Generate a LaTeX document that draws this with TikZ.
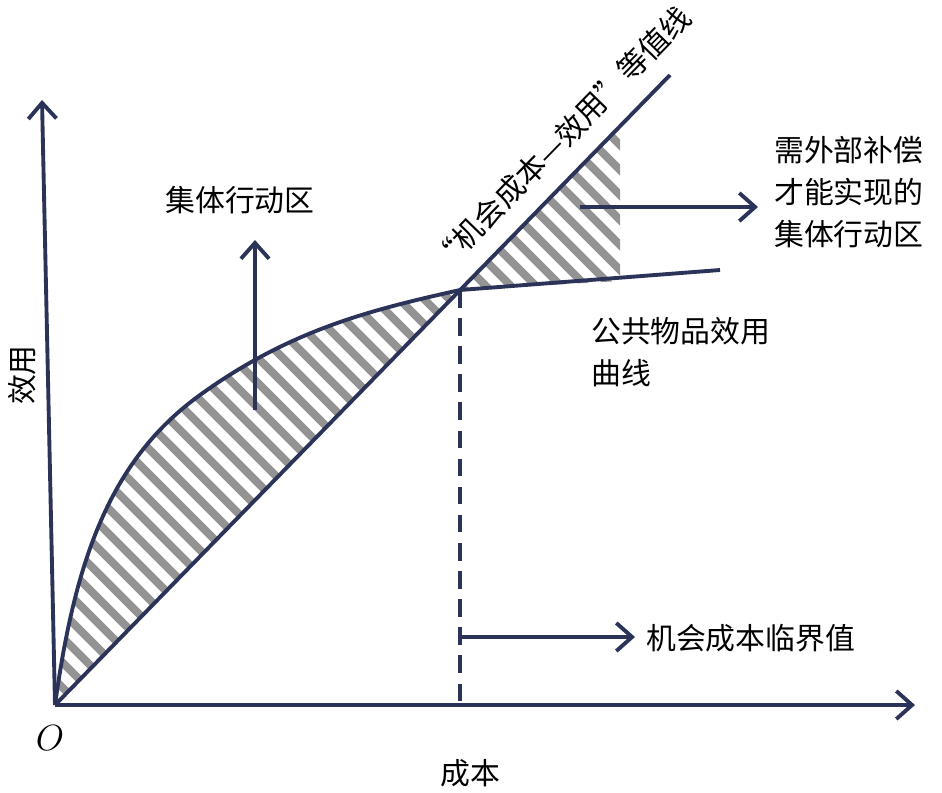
\documentclass[tikz,border=0pt]{standalone}
\usepackage{fontspec}
\setmainfont{Noto Sans CJK SC}
\usetikzlibrary{arrows.meta}
\definecolor{navy}{HTML}{2B3358}
\tikzset{
    axis/.style={navy,line width=2.2pt,-{Straight Barb[length=9pt,width=16pt,line width=2.2pt]}},
    lineN/.style={navy,line width=2.2pt},
    hatch/.style={gray!85,line width=4.5pt},
    lab/.style={font=\fontsize{17}{24}\selectfont,align=left}
}
\begin{document}
\begin{tikzpicture}[x=0.02cm,y=-0.02cm]
    \useasboundingbox (0,0) rectangle (942,792);
    \coordinate (O) at (55,705);
    \coordinate (P) at (460,290);
    \coordinate (Q) at (620,281);
    \coordinate (R) at (620,126);
    % hatched areas
    \begin{scope}
        \clip (O) .. controls (75,560) and (110,460) .. (200,395)
              .. controls (290,330) and (370,310) .. (P) -- cycle;
        \foreach \k in {-1000,-975,...,700}
            \draw[hatch] (\k,0) -- ++(800,800);
    \end{scope}
    \begin{scope}
        \clip (P) -- (Q) -- (R) -- cycle;
        \foreach \k in {-1000,-975,...,700}
            \draw[hatch] (\k,0) -- ++(800,800);
    \end{scope}
    % axes
    \draw[axis] (O) -- (915,705);
    \draw[axis] (O) -- (42,100);
    % curves
    \draw[lineN] (O) -- (670,75);
    \draw[lineN] (O) .. controls (75,560) and (110,460) .. (200,395)
          .. controls (290,330) and (370,310) .. (P) -- (720,270);
    \draw[lineN,dashed,dash pattern=on 10pt off 6pt] (P) -- (460,705);
    % arrows
    \draw[axis] (255,410) -- (255,240);
    \draw[axis] (580,207) -- (758,207);
    \draw[axis] (460,637) -- (635,637);
    % labels
    \node[lab] (act) at (240,200) {集体行动区};
    \node[lab,anchor=west] (comp) at (768,192) {需外部补偿\\才能实现的\\集体行动区};
    \node[lab,anchor=west] (pub) at (585,352) {公共物品效用\\曲线};
    \node[lab,anchor=west] (crit) at (640,638) {机会成本临界值};
    \node[lab] (cost) at (470,773) {成本};
    \node[lab,rotate=90] (util) at (22,375) {效用};
    \node[font=\fontsize{20}{24}\selectfont] (orig) at (50,738) {$O$};
    \node[lab,rotate=45.7] (iso) at (561,139) {“机会成本—效用”等值线};
\end{tikzpicture}
\end{document}
